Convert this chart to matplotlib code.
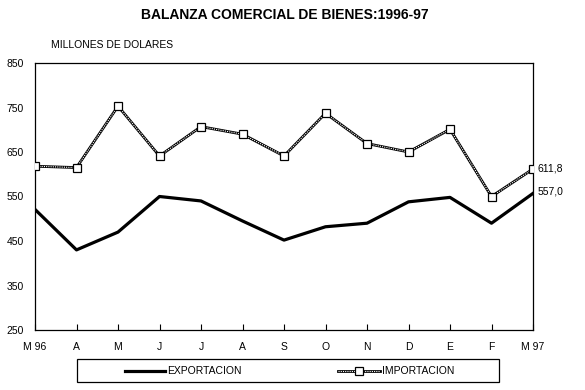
import matplotlib
matplotlib.use("Agg")
import matplotlib.pyplot as plt
from matplotlib.lines import Line2D
from matplotlib.patches import Rectangle

plt.rcParams['font.family'] = ['Liberation Sans', 'DejaVu Sans']

months = ["M 96", "A", "M", "J", "J", "A", "S", "O", "N", "D", "E", "F", "M 97"]
exportacion = [521, 430, 470, 550, 540, 495, 452, 482, 490, 538, 548, 490, 557.0]
importacion = [618, 615, 753, 641, 707, 690, 641, 737, 669, 650, 701, 550, 611.8]
yticks = [250, 350, 450, 550, 650, 750, 850]

W, H = 585, 390
fig = plt.figure(figsize=(5.85, 3.9), dpi=100)
ax = fig.add_axes([35/W, 1-330/H, (533-35)/W, (330-63)/H])
x = list(range(len(months)))

def imp_style(a, xs, ys, **kw):
    a.plot(xs, ys, color='black', lw=2.0, zorder=3, **kw)
    a.plot(xs, ys, color='white', lw=0.8, ls=(0, (1, 1)), zorder=4, **kw)

ax.plot(x, exportacion, color='black', lw=2.3, zorder=3)
imp_style(ax, x, importacion)
ax.plot(x, importacion, ls='none', marker='s', ms=6, mfc='white', mec='black', mew=0.9, zorder=5)

ax.set_xlim(0, len(months)-1)
ax.set_ylim(250, 850)
ax.set_yticks(yticks)
ax.set_yticklabels([str(v) for v in yticks], fontsize=7.5)
ax.set_xticks(x)
ax.set_xticklabels(months, fontsize=7.5)
ax.tick_params(axis='x', direction='in', length=4, width=0.8, pad=9)
ax.tick_params(axis='y', length=0, pad=8)
for s in ax.spines.values():
    s.set_linewidth(0.9)

ax.text(len(months)-1 + 0.12, importacion[-1], "611,8", fontsize=7.5, va='center', ha='left', clip_on=False)
ax.text(len(months)-1 + 0.12, exportacion[-1] + 4, "557,0", fontsize=7.5, va='center', ha='left', clip_on=False)

fig.text(285/W, 1-15/H, "BALANZA COMERCIAL DE BIENES:1996-97", fontsize=10, fontweight='bold', ha='center', va='center')
fig.text(51/W, 1-45/H, "MILLONES DE DOLARES", fontsize=7.5, ha='left', va='center')

# legend (manual)
fig.patches.append(Rectangle((77/W, 1-382/H), (499-77)/W, (382-359)/H, transform=fig.transFigure,
                             fill=False, edgecolor='black', lw=0.9))
ly = 1-371/H
fig.add_artist(Line2D([125/W, 165/W], [ly, ly], color='black', lw=2.3, transform=fig.transFigure))
fig.text(167/W, ly, "EXPORTACION", fontsize=7.5, ha='left', va='center')
fig.add_artist(Line2D([338/W, 380/W], [ly, ly], color='black', lw=2.0, transform=fig.transFigure))
fig.add_artist(Line2D([338/W, 380/W], [ly, ly], color='white', lw=0.8, ls=(0, (1, 1)), transform=fig.transFigure))
fig.add_artist(Line2D([359/W], [ly], ls='none', marker='s', ms=6, mfc='white', mec='black', mew=0.9,
                      transform=fig.transFigure))
fig.text(382/W, ly, "IMPORTACION", fontsize=7.5, ha='left', va='center')

fig.savefig("out.png", dpi=100)
